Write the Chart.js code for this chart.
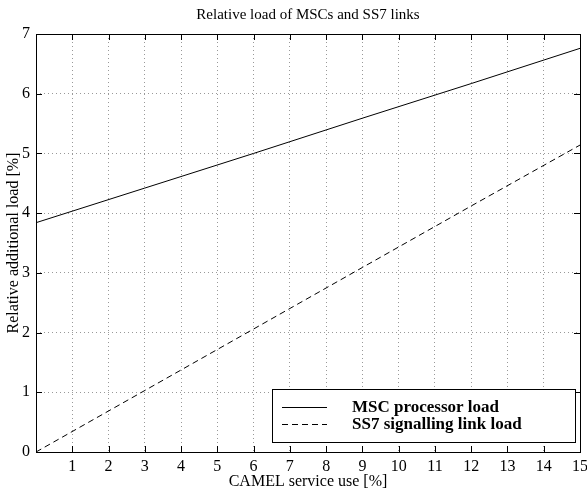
<!DOCTYPE html>
<html>
<head>
<meta charset="utf-8">
<script src="https://cdn.jsdelivr.net/npm/chart.js@4/dist/chart.umd.min.js"></script>
<style>
html,body{margin:0;padding:0;background:#fff;}
#c{display:block;}
</style>
</head>
<body>
<canvas id="c" width="587" height="492"></canvas>
<script>
const chartTitle = "Relative load of MSCs and SS7 links";
const xAxisTitle = "CAMEL service use [%]";
const yAxisTitle = "Relative additional load [%]";
const seriesNames = ["MSC processor load", "SS7 signalling link load"];
const xValues = [0, 3, 6, 9, 12, 15];
const mscLoad = [3.84, 4.42, 5.00, 5.59, 6.17, 6.76];
const ss7Load = [0, 1.03, 2.06, 3.09, 4.12, 5.14];
const xTicks = [0,1,2,3,4,5,6,7,8,9,10,11,12,13,14,15];
const yTicks = [0,1,2,3,4,5,6,7];

const FONT = '"Liberation Serif", "DejaVu Serif", serif';

function pts(ys){ return xValues.map((x,i)=>({x:x, y:ys[i]})); }

const decor = {
  id: 'decor',
  afterDraw(chart){
    const ctx = chart.ctx;
    const a = chart.chartArea;
    const xs = chart.scales.x, ys = chart.scales.y;
    const al = v => Math.round(v) + 0.5;
    ctx.save();
    // title
    ctx.fillStyle = '#000';
    ctx.font = '15px ' + FONT;
    ctx.textAlign = 'center';
    ctx.textBaseline = 'middle';
    ctx.fillText(chartTitle, (a.left + a.right)/2, 15);
    // inward ticks
    ctx.strokeStyle = '#000';
    ctx.lineWidth = 1;
    ctx.beginPath();
    const TL = 6;
    xTicks.forEach(v=>{
      const px = al(xs.getPixelForValue(v));
      ctx.moveTo(px, a.bottom); ctx.lineTo(px, a.bottom - TL);
      ctx.moveTo(px, a.top); ctx.lineTo(px, a.top + TL);
    });
    yTicks.forEach(v=>{
      const py = al(ys.getPixelForValue(v));
      ctx.moveTo(a.left, py); ctx.lineTo(a.left + TL, py);
      ctx.moveTo(a.right, py); ctx.lineTo(a.right - TL, py);
    });
    ctx.stroke();
    // box
    ctx.strokeRect(al(a.left), al(a.top), Math.round(a.right) - Math.round(a.left), Math.round(a.bottom) - Math.round(a.top));
    // legend
    const lx = 272, ly = 389, lw = 303, lh = 53;
    ctx.fillStyle = '#fff';
    ctx.fillRect(lx, ly, lw, lh);
    ctx.strokeStyle = '#000';
    ctx.strokeRect(lx + 0.5, ly + 0.5, lw, lh);
    const rows = [407, 424];
    chart.data.datasets.forEach((ds, i)=>{
      ctx.beginPath();
      ctx.setLineDash(ds.borderDash || []);
      ctx.moveTo(282, rows[i] + 0.5);
      ctx.lineTo(327, rows[i] + 0.5);
      ctx.stroke();
      ctx.setLineDash([]);
      ctx.fillStyle = '#000';
      ctx.font = 'bold 17px ' + FONT;
      ctx.textAlign = 'left';
      ctx.textBaseline = 'middle';
      ctx.fillText(ds.label, 352, rows[i] + 1);
    });
    ctx.restore();
  }
};

new Chart(document.getElementById('c'), {
  type: 'line',
  data: {
    datasets: [
      { label: seriesNames[0], data: pts(mscLoad), borderColor: '#000', borderWidth: 1, pointRadius: 0, fill: false, tension: 0 },
      { label: seriesNames[1], data: pts(ss7Load), borderColor: '#000', borderWidth: 1, borderDash: [6,4], pointRadius: 0, fill: false, tension: 0 }
    ]
  },
  options: {
    responsive: false,
    devicePixelRatio: 1,
    animation: false,
    layout: { padding: { top: 34, right: 7, left: 0, bottom: 0 } },
    plugins: { legend: { display: false }, title: { display: false }, tooltip: { enabled: false } },
    scales: {
      x: {
        type: 'linear', min: 0, max: 15,
        afterBuildTicks: s => { s.ticks = xTicks.map(v=>({value:v})); },
        ticks: { color: '#000', font: { family: FONT, size: 16 }, padding: 5, maxRotation: 0, autoSkip: false,
          callback: v => v === 0 ? '' : String(v) },
        grid: { color: '#999', lineWidth: 1, drawTicks: false, borderDash: [1,3] },
        border: { display: false, dash: [1,3] },
        title: { display: true, text: xAxisTitle, color: '#000', font: { family: FONT, size: 16 }, padding: { top: 0, bottom: 1 } },
        afterFit: s => { s.height = 40; s.paddingLeft = 0; s.paddingRight = 0; }
      },
      y: {
        type: 'linear', min: 0, max: 7,
        afterBuildTicks: s => { s.ticks = yTicks.map(v=>({value:v})); },
        ticks: { color: '#000', font: { family: FONT, size: 16 }, padding: 6 },
        grid: { color: '#999', lineWidth: 1, drawTicks: false, borderDash: [1,3] },
        border: { display: false, dash: [1,3] },
        title: { display: true, text: yAxisTitle, color: '#000', font: { family: FONT, size: 16 }, padding: { top: 4, bottom: 0 } },
        afterFit: s => { s.width = 36; s.paddingTop = 0; s.paddingBottom = 0; }
      }
    }
  },
  plugins: [decor]
});
</script>
</body>
</html>
